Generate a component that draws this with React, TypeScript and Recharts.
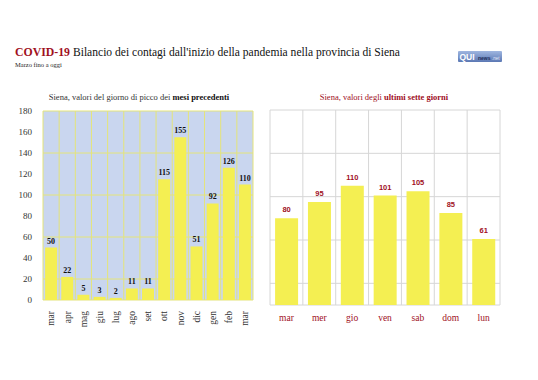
import React from "react";
import { BarChart, Bar, XAxis, YAxis, CartesianGrid, LabelList } from "recharts";

const monthCategories = ["mar", "apr", "mag", "giu", "lug", "ago", "set", "ott", "nov", "dic", "gen", "feb", "mar"];
const monthPeaks = [50, 22, 5, 3, 2, 11, 11, 115, 155, 51, 92, 126, 110];
const dayCategories = ["mar", "mer", "gio", "ven", "sab", "dom", "lun"];
const dayValues = [80, 95, 110, 101, 105, 85, 61];
const yTicks = [0, 20, 40, 60, 80, 100, 120, 140, 160, 180];

const monthData = monthCategories.map((m, i) => ({ key: m + i, name: m, value: monthPeaks[i] }));
const dayData = dayCategories.map((d, i) => ({ name: d, value: dayValues[i] }));

const SERIF = "'Liberation Serif', 'DejaVu Serif', serif";
const SANS = "'Liberation Sans', Arial, sans-serif";
const RED = "#a0101e";
const YELLOW = "#f4ef52";

const boundaryGen = (n: number) => (props: any) => {
  const off = props.offset;
  const out: number[] = [];
  for (let i = 0; i <= n; i++) out.push(off.left + (off.width * i) / n);
  return out;
};

const MonthTick = (props: any) => {
  const { x, y, payload } = props;
  const label = monthCategories[payload.index] ?? payload.value;
  return (
    <text
      x={x}
      y={y + 3}
      transform={`rotate(-90, ${x}, ${y + 3})`}
      textAnchor="end"
      dy="0.35em"
      fontFamily={SERIF}
      fontSize={9.5}
      fill="#333"
    >
      {label}
    </text>
  );
};

export default function App() {
  return (
    <div style={{ position: "absolute", left: 0, top: 0, width: 538, height: 380, background: "#fff" }}>
      <svg width={538} height={380} style={{ position: "absolute", left: 0, top: 0 }}>
        <defs>
          <linearGradient id="logoGrad" x1="0" y1="0" x2="0" y2="1">
            <stop offset="0%" stopColor="#9fb6e0" />
            <stop offset="100%" stopColor="#5b78b4" />
          </linearGradient>
        </defs>
        <text x={15} y={56} fontFamily={SERIF} fontSize={13} fontWeight="bold" fill={RED} textLength={55} lengthAdjust="spacingAndGlyphs">
          COVID-19
        </text>
        <text x={73} y={56} fontFamily={SERIF} fontSize={13} fill="#111" textLength={327} lengthAdjust="spacingAndGlyphs">
          Bilancio dei contagi dall'inizio della pandemia nella provincia di Siena
        </text>
        <text x={15} y={67} fontFamily={SERIF} fontSize={6.5} fill="#222">Marzo fino a oggi</text>
        <rect x={458} y={51} width={44} height={11} fill="url(#logoGrad)" rx={1} />
        <text x={459.5} y={60} fontFamily={SANS} fontSize={8.5} fontWeight="bold" fill="#fff">QUI</text>
        <text x={478} y={60} fontFamily={SANS} fontSize={5} fontWeight="bold" fill="#1d2b55">news</text>
        <text x={492} y={60} fontFamily={SANS} fontSize={4.5} fill="#e8eefa">.net</text>
        <text x={139} y={100} textAnchor="middle" fontFamily={SERIF} fontSize={8.5} fill="#333">
          Siena, valori del giorno di picco dei <tspan fontWeight="bold" fill="#111">mesi precedenti</tspan>
        </text>
        <text x={384} y={100} textAnchor="middle" fontFamily={SERIF} fontSize={8.5} fill={RED}>
          Siena, valori degli <tspan fontWeight="bold">ultimi sette giorni</tspan>
        </text>
      </svg>

      <div style={{ position: "absolute", left: 0, top: 90 }}>
        <BarChart
          width={265}
          height={250}
          data={monthData}
          margin={{ top: 21, right: 12, bottom: 5, left: 0 }}
          barCategoryGap="13%"
        >
          <CartesianGrid
            fill="#c9d6ef"
            stroke="#e4e47a"
            strokeWidth={1}
            verticalCoordinatesGenerator={boundaryGen(monthCategories.length)}
          />
          <XAxis
            dataKey="key"
            interval={0}
            height={35}
            axisLine={false}
            tickLine={false}
            tick={<MonthTick />}
          />
          <YAxis
            width={43}
            domain={[0, 180]}
            ticks={yTicks}
            axisLine={false}
            tickLine={false}
            tickSize={8}
            tickMargin={3}
            tick={{ fontFamily: SERIF, fontSize: 9, fill: "#333" }}
          />
          <Bar dataKey="value" fill={YELLOW} isAnimationActive={false}>
            <LabelList
              dataKey="value"
              position="top"
              offset={4}
              style={{ fontFamily: SERIF, fontSize: 8, fontWeight: "bold", fill: "#111" }}
            />
          </Bar>
        </BarChart>
      </div>

      <div style={{ position: "absolute", left: 265, top: 90 }}>
        <BarChart
          width={273}
          height={250}
          data={dayData}
          margin={{ top: 20, right: 38, bottom: 5, left: 5 }}
          barCategoryGap="15.5%"
        >
          <CartesianGrid
            stroke="#d6d6d6"
            strokeWidth={1}
            verticalCoordinatesGenerator={boundaryGen(dayCategories.length)}
          />
          <XAxis
            dataKey="name"
            interval={0}
            height={30}
            axisLine={false}
            tickLine={false}
            tickMargin={3}
            tick={{ fontFamily: SERIF, fontSize: 9.5, fill: RED }}
          />
          <YAxis hide domain={[0, 180]} ticks={yTicks} />
          <Bar dataKey="value" fill={YELLOW} isAnimationActive={false}>
            <LabelList
              dataKey="value"
              position="top"
              offset={6}
              style={{ fontFamily: SANS, fontSize: 7.5, fontWeight: "bold", fill: RED }}
            />
          </Bar>
        </BarChart>
      </div>
    </div>
  );
}
